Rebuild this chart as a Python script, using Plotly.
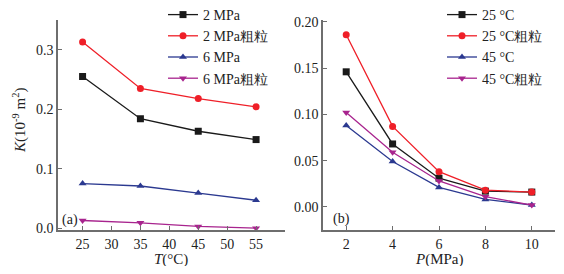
import plotly.graph_objects as go

T = [25, 35, 45, 55]
k_2mpa = [0.255, 0.184, 0.163, 0.149]
k_2mpa_c = [0.313, 0.235, 0.218, 0.204]
k_6mpa = [0.075, 0.071, 0.059, 0.047]
k_6mpa_c = [0.013, 0.009, 0.003, 0.000]

P = [2, 4, 6, 8, 10]
k_25 = [0.146, 0.068, 0.031, 0.017, 0.016]
k_25_c = [0.186, 0.087, 0.038, 0.018, 0.016]
k_45 = [0.088, 0.049, 0.021, 0.008, 0.002]
k_45_c = [0.102, 0.059, 0.028, 0.011, 0.002]

left_names = ["2 MPa", "2 MPa粗粒", "6 MPa", "6 MPa粗粒"]
right_names = ["25 °C", "25 °C粗粒", "45 °C", "45 °C粗粒"]

x_title_a = "<i>T</i>(°C)"
x_title_b = "<i>P</i>(MPa)"
y_title = "<i>K</i>(10<sup>-9</sup> m<sup>2</sup>)"

colors = ["#1a1a1a", "#ef1f28", "#2b3990", "#a8248e"]
symbols = ["square", "circle", "triangle-up", "triangle-down"]

FONT = "Liberation Serif"
AXC = "#6e6e6e"

# The page body has an 8px default margin; figure is sized to fit inside it.
W, H, OFF = 548, 258, 8


def px(x):
    return (x - OFF) / W


def py(y):
    return (H + OFF - y) / H


fig = go.Figure()
for ys, name, c, s in zip([k_2mpa, k_2mpa_c, k_6mpa, k_6mpa_c], left_names, colors, symbols):
    fig.add_trace(go.Scatter(x=T, y=ys, name=name, mode="lines+markers",
                             line=dict(color=c, width=1.3),
                             marker=dict(symbol=s, size=7, color=c),
                             xaxis="x", yaxis="y", legend="legend"))
for ys, name, c, s in zip([k_25, k_25_c, k_45, k_45_c], right_names, colors, symbols):
    fig.add_trace(go.Scatter(x=P, y=ys, name=name, mode="lines+markers",
                             line=dict(color=c, width=1.3),
                             marker=dict(symbol=s, size=7, color=c),
                             xaxis="x2", yaxis="y2", legend="legend2"))

ydom = [py(230), py(20)]
common = dict(showgrid=False, zeroline=False, showline=True, linecolor=AXC, linewidth=1.5,
              ticks="inside", ticklen=4, tickcolor=AXC, tickwidth=1.2,
              tickfont=dict(family=FONT, size=14, color="#222"))
minor_common = dict(ticks="inside", ticklen=4, tickcolor=AXC, tickwidth=1.2, showgrid=False)

fig.update_layout(
    width=W, height=H,
    margin=dict(l=0, r=0, t=0, b=0, autoexpand=False),
    paper_bgcolor="white", plot_bgcolor="white",
    font=dict(family=FONT, size=14, color="#222"),
    xaxis=dict(domain=[px(58), px(285)], range=[20.75, 60],
               tickvals=[25, 30, 35, 40, 45, 50, 55],
               minor=dict(tickvals=[60], **minor_common),
               anchor="y", **common),
    yaxis=dict(domain=ydom, range=[-0.003, 0.35],
               tickvals=[0.0, 0.1, 0.2, 0.3],
               ticktext=["0.0", "0.1", "0.2", "0.3"],
               minor=dict(tickvals=[0.35], **minor_common),
               anchor="x", **common),
    xaxis2=dict(domain=[px(323), px(555)], range=[1, 11],
                tickvals=[2, 4, 6, 8, 10],
                minor=dict(tickvals=[11], **minor_common),
                anchor="y2", **common),
    yaxis2=dict(domain=ydom, range=[-0.025, 0.202],
                tickvals=[0.0, 0.05, 0.10, 0.15, 0.20],
                ticktext=["0.00", "0.05", "0.10", "0.15", "0.20"],
                anchor="x2", **common),
    legend=dict(x=px(163), y=py(-1), xanchor="left", yanchor="top",
                bgcolor="rgba(0,0,0,0)", font=dict(family=FONT, size=14),
                itemwidth=30, tracegroupgap=0),
    legend2=dict(x=px(442), y=py(-1), xanchor="left", yanchor="top",
                 bgcolor="rgba(0,0,0,0)", font=dict(family=FONT, size=14),
                 itemwidth=30, tracegroupgap=0),
    showlegend=True,
)

ann_font = dict(family=FONT, size=15, color="#222")
fig.add_annotation(text=x_title_a, x=px(171), y=py(259), xref="paper", yref="paper",
                   xanchor="center", yanchor="middle", showarrow=False, font=ann_font)
fig.add_annotation(text=x_title_b, x=px(439), y=py(259), xref="paper", yref="paper",
                   xanchor="center", yanchor="middle", showarrow=False, font=ann_font)
fig.add_annotation(text=y_title, x=px(19), y=py(121), xref="paper", yref="paper",
                   xanchor="center", yanchor="middle", textangle=-90, showarrow=False, font=ann_font)

fig.add_annotation(text="(a)", x=px(60), y=py(220), xref="paper", yref="paper",
                   xanchor="left", yanchor="middle", showarrow=False, font=dict(family=FONT, size=14))
fig.add_annotation(text="(b)", x=px(331), y=py(219), xref="paper", yref="paper",
                   xanchor="left", yanchor="middle", showarrow=False, font=dict(family=FONT, size=14))

fig.write_html("out.html")
